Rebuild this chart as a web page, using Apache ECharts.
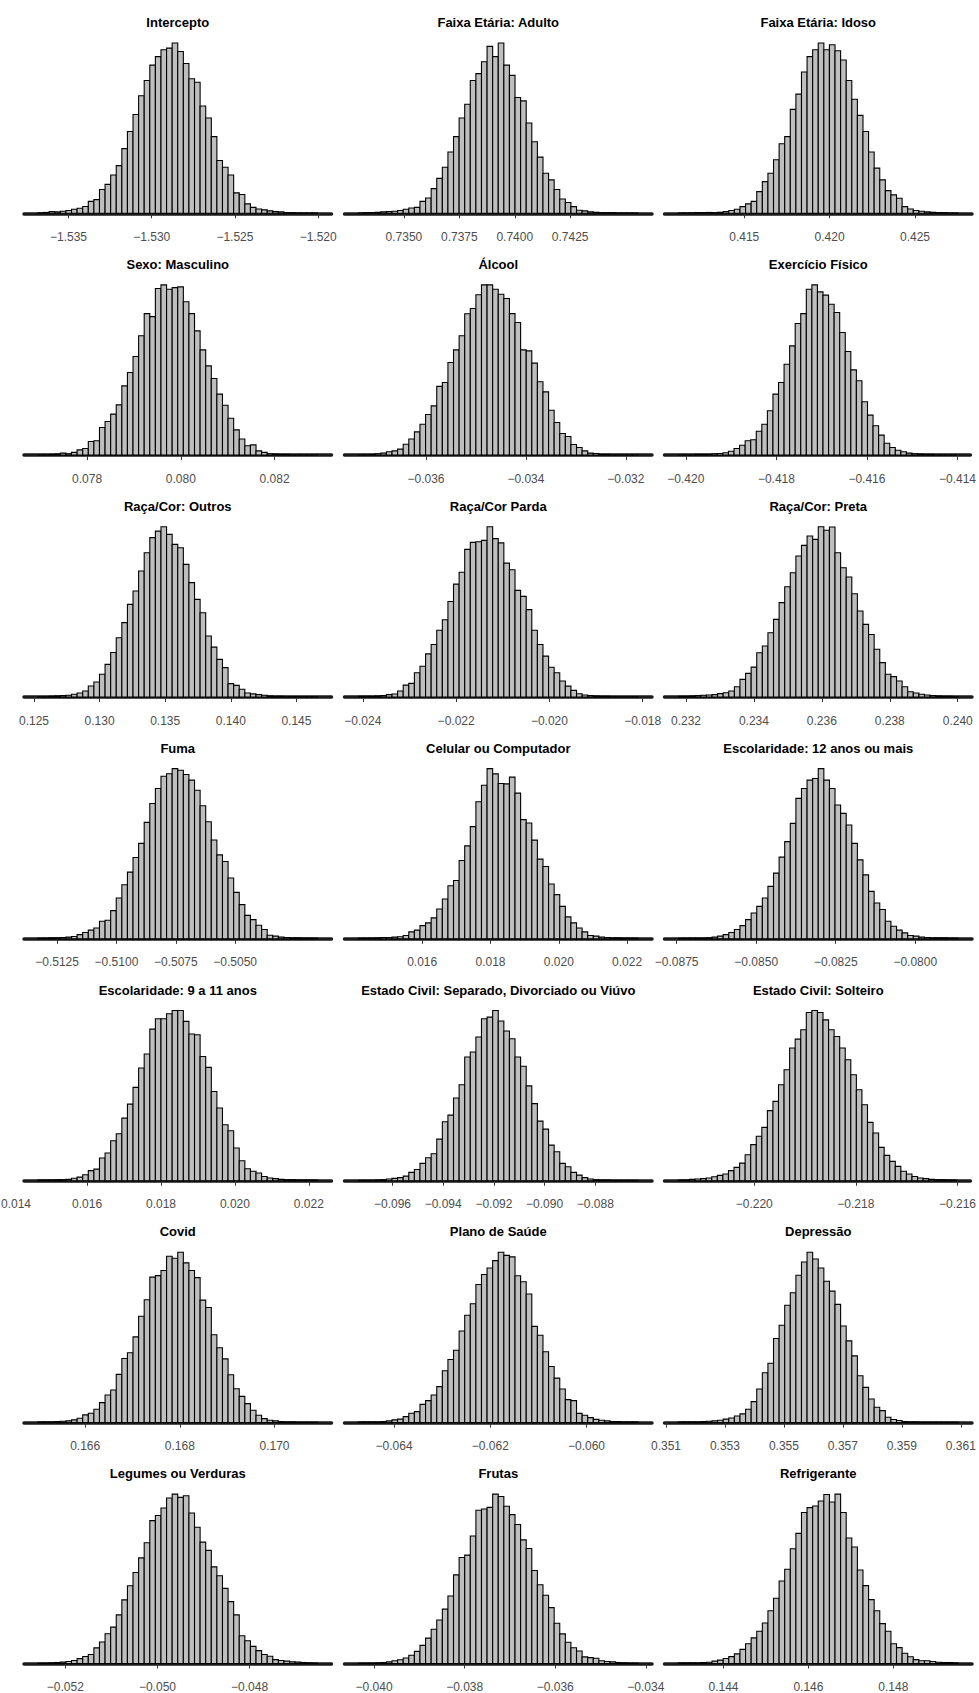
<!DOCTYPE html>
<html>
<head>
<meta charset="utf-8">
<script src="https://cdn.jsdelivr.net/npm/echarts@6/dist/echarts.min.js"></script>
<style>
  html, body { margin: 0; padding: 0; background: #ffffff; }
  #chart { width: 979px; height: 1693px; }
</style>
</head>
<body>
<div id="chart"></div>
<script>
// Posterior draws of each coefficient, shown as 50-bin histograms.

const titles = [
  'Intercepto', 'Faixa Etária: Adulto', 'Faixa Etária: Idoso',
  'Sexo: Masculino', 'Álcool', 'Exercício Físico',
  'Raça/Cor: Outros', 'Raça/Cor Parda', 'Raça/Cor: Preta',
  'Fuma', 'Celular ou Computador', 'Escolaridade: 12 anos ou mais',
  'Escolaridade: 9 a 11 anos', 'Estado Civil: Separado, Divorciado ou Viúvo', 'Estado Civil: Solteiro',
  'Covid', 'Plano de Saúde', 'Depressão',
  'Legumes ou Verduras', 'Frutas', 'Refrigerante'
];

// Left edge of the first bin and right edge of the last bin
const binRange = [
  [-1.536832, -1.520040], [0.732950, 0.745560], [0.411150, 0.427520],
  [0.076952, 0.082917], [-0.037351, -0.031757], [-0.420165, -0.414022],
  [0.125305, 0.146609], [-0.024094, -0.018100], [0.231779, 0.240009],
  [-0.513305, -0.501532], [0.014134, 0.022320], [-0.087443, -0.078657],
  [0.014671, 0.022236], [-0.097342, -0.086315], [-0.221493, -0.216020],
  [0.165002, 0.170909], [-0.064741, -0.058929], [0.351424, 0.360905],
  [-0.052593, -0.046526], [-0.040345, -0.034173], [0.142940, 0.149522]
];

const tickLabels = [
  ['-1.535', '-1.530', '-1.525', '-1.520'],
  ['0.7350', '0.7375', '0.7400', '0.7425'],
  ['0.415', '0.420', '0.425'],
  ['0.078', '0.080', '0.082'],
  ['-0.036', '-0.034', '-0.032'],
  ['-0.420', '-0.418', '-0.416', '-0.414'],
  ['0.125', '0.130', '0.135', '0.140', '0.145'],
  ['-0.024', '-0.022', '-0.020', '-0.018'],
  ['0.232', '0.234', '0.236', '0.238', '0.240'],
  ['-0.5125', '-0.5100', '-0.5075', '-0.5050'],
  ['0.016', '0.018', '0.020', '0.022'],
  ['-0.0875', '-0.0850', '-0.0825', '-0.0800'],
  ['0.014', '0.016', '0.018', '0.020', '0.022'],
  ['-0.096', '-0.094', '-0.092', '-0.090', '-0.088'],
  ['-0.220', '-0.218', '-0.216'],
  ['0.166', '0.168', '0.170'],
  ['-0.064', '-0.062', '-0.060'],
  ['0.351', '0.353', '0.355', '0.357', '0.359', '0.361'],
  ['-0.052', '-0.050', '-0.048'],
  ['-0.040', '-0.038', '-0.036', '-0.034'],
  ['0.144', '0.146', '0.148']
];

// Bin heights (relative counts), left to right
const hIntercepto = [0.3,0.5,1,0.8,1.2, 1.6,2.4,3,4,7, 8,14,17,22.5,28, 38,48,58,69,78, 87,92,96,97,100, 95,88,79,77,63, 56,45,31,27,22.5, 12,11,5.5,3.5,2.5, 2,1.4,1,0.8,0.4, 0.4,0.2,0.2,0.2,0.2];
const hAdulto = [0.2,0.4,0.4,0.6,0.8, 1,1.2,1.6,2.4,3.1, 3.5,7,9,14.5,20.5, 27,36,45,56,64, 78,82,89,98,92, 100,87,81,68,66, 53,42,33,23.5,19.6, 14,8.4,6.3,3.9,1.8, 1.4,0.8,0.6,0.4,0.4, 0.4,0.2,0.2,0.2,0.2];
const hIdoso = [0.2,0.2,0.3,0.4,0.4, 0.5,0.4,0.6,1,1.6, 2.4,3.9,5.5,7,12.7, 18.6,23.5,31.4,40.8,45, 61,70,83,92,96, 100,96,99,95.5,90, 78,67,57.5,48,36, 26.5,19.6,13.3,10.8,8.8, 3.9,2.5,1.6,1.2,0.8, 0.6,0.4,0.4,0.2,0.2];
const hMasculino = [0.2,0.2,0.4,0.6,1.2, 0.8,1.6,3.1,3.9,8, 8.4,16.2,19.7,24,29.4, 40.5,48.3,57.7,69.8,82.8, 81,97.5,99.6,97,98, 98.4,89.7,82.8,72.7,61.6, 52.2,44.8,35.7,29.2,21.6, 14.8,9.4,5.5,6,2.5, 1.6,0.8,0.6,0.4,0.4, 0.2,0.2,0.2,0.2,0.2];
const hAlcool = [0.2,0.2,0.4,0.8,1.2, 2,2.5,3.5,6.4,9.4, 13.6,18.1,23.8,28.8,40.2, 42.5,54.2,61.6,69.8,82.7, 85.8,93.8,99.6,99.6,97, 94.1,91.6,82.8,77.6,61.6, 61,53.8,42.9,37,26.3, 19.1,12.7,10.9,6.2,4.5, 2.5,1.2,1,0.4,0.4, 0.2,0.2,0.2,0.2,0.2];
const hExercicio = [0.2,0.2,0.2,0.4,0.4, 0.4,0.8,1,1.4,2.3, 3.9,5.8,8.4,9,14, 18.1,26,35.7,42.5,53.2, 63.9,77,82.8,97,99.6, 95.5,93.6,88.3,83.4,71.7, 60.6,49.9,43.5,31.2,23.4, 17.2,11.7,7,4.5,2.9, 2,1.2,0.8,0.6,0.4, 0.4,0.2,0.2,0.2,0.2];
const hOutros = [0.2,0.2,0.4,0.6,0.8, 1,1.6,2.3,3.5,6.4, 8.8,13.3,19.1,26,34.7, 43.5,54.2,62,73.7,84.4, 93.2,97,99.6,95.1,89.3, 87.3,77.6,66.9,57.1,49.3, 35.7,29.2,22,17.2,7.8, 6.8,4.5,2.3,1.8,1.4, 1,0.6,0.4,0.4,0.2, 0.2,0.2,0.2,0.2,0.2];
const hParda = [0.4,0.4,0.4,0.6,0.8, 1.4,1.8,3.5,7,8, 14.2,18.1,25.3,30.8,39.2, 45.4,56.1,66.3,73.3,86.7, 90.8,91.2,92,100,93, 90.5,78.6,74.7,62.6,59.1, 51.3,39.2,30.8,24,17.5, 14.2,9.4,6.4,3.9,1.9, 1.2,0.8,0.6,0.4,0.4, 0.2,0.2,0.2,0.2,0.2];
const hPreta = [0.4,0.4,0.6,0.8,1, 1.2,1.4,2,2.5,3.5, 6,10.3,13.8,17.5,25.9, 29.8,37.6,45.4,55.2,64.5, 72.7,82.5,88.7,94.2,92.2, 99.6,97.5,99.4,84.4,75.6, 70.2,60.4,50.3,42.5,36.6, 27.9,20.1,13.3,11.9,9.4, 6,3.1,2.3,1.6,1.2, 0.8,0.6,0.4,0.4,0.2];
const hFuma = [0.4,0.4,0.6,0.6,0.8, 1,1.4,2.5,3.7,5.1, 6.4,10.3,10.9,16.6,24, 31.8,39.2,47.8,56.1,68.4, 79.5,88.3,95.5,97,100, 99,96.5,93.2,87.3,78.2, 68.8,58.1,49.3,45.4,35.7, 27.3,20.1,13.8,11.3,8, 5.5,2.1,1.6,1,0.8, 0.6,0.6,0.4,0.4,0.4];
const hCelular = [0.4,0.4,0.4,0.6,0.8, 0.8,1,1.2,2,4.1, 5.1,7.8,9.4,12.3,17.5, 23.4,31.2,34.3,46,54.6, 65.9,80.5,90.2,100,96.9, 91.2,91,95,85.6,70, 68,58,46.8,42.5,32.2, 26,19.1,12.9,9.4,6.4, 4.1,2,1.6,1,0.8, 0.6,0.6,0.4,0.4,0.4];
const hEscol12 = [0.4,0.4,0.4,0.4,0.4, 0.6,1,1.6,2.5,3.7, 5.5,7.8,11.3,15.2,19.1, 24,30.8,38.6,48,57.1, 67.8,82.5,88.3,93.2,94.2, 100,93.2,88.3,78.6,73.7, 66.9,56.1,46.4,37.6,27.9, 21.1,17.2,10.3,7.4,5.1, 3.5,2,1.6,1,0.8, 0.6,0.6,0.6,0.4,0.4];
const hEscol9 = [0.4,0.4,0.4,0.6,0.6, 0.8,1.4,2.1,3.5,5.9, 6.8,13.3,16.2,23.4,27.5, 36.6,44.8,54.6,65.9,74.1, 88.7,94.7,94.7,97.7,99.6, 99.6,93.2,85.8,85.4,72.7, 66.3,52.2,42.5,32.7,29.2, 19.1,11.7,7,5.5,4.5, 2.5,1.6,1.2,0.8,0.6, 0.6,0.4,0.4,0.4,0.4];
const hSeparado = [0.2,0.2,0.2,0.4,0.6, 1,1.4,1.8,2.7,4.9, 6.6,10.2,13.5,15.8,24.4, 34.6,38.5,48.6,56.4,72.7, 75.6,84.4,95.1,96.1,100, 93.8,87.9,83.4,72.7,67.2, 55.7,45.3,35,30.3,20.9, 17,10.2,8.2,4.9,3.3, 1.8,1,0.6,0.4,0.4, 0.2,0.2,0.2,0.2,0.2];
const hSolteiro = [0.4,0.4,0.8,1,1.2, 1.6,2.3,3.1,3.9,5.9, 7.8,10.3,15.2,21.1,26, 31.2,41,46.4,56.1,64.9, 77.6,82.8,88.3,98.4,99.6, 98.4,94.1,88.3,84.4,77.6, 70.8,62,53.2,44.4,34.1, 27.9,19.5,14.8,11.3,8.4, 5.5,3.9,2.5,1.6,1.2, 0.8,0.6,0.6,0.4,0.4];
const hCovid = [0.4,0.4,0.4,0.6,0.8, 1,1.6,2.5,4.5,5.5, 7.8,11.7,16.2,19.1,28.3, 37.6,41,50.3,62.4,72.1, 85.4,86.3,89.3,97.7,96.5, 100,93.8,89.3,85.1,71.9, 67.6,51.6,43.9,37.4,28.1, 19.9,15.4,11.1,7.2,4.3, 2.3,1.4,1,0.6,0.4, 0.4,0.2,0.2,0.2,0.2];
const hPlano = [0.4,0.4,0.4,0.4,0.6, 1,1.6,2,3.5,5.5, 6.4,10.7,12.9,16.2,21.1, 30.4,37,42.5,53.8,63, 69.8,81.1,87,90.8,95.1, 100,98.2,97.3,86.2,82.7, 75.5,56.5,51.3,41.6,32.9, 26.1,19.7,13.5,12.9,5.4, 4.3,2.9,1.9,1.4,1, 0.6,0.6,0.4,0.4,0.4];
const hDepressao = [0.4,0.4,0.4,0.4,0.6, 0.8,1,1.4,2,2.7, 3.9,5.1,7.8,12.3,19.7, 29.3,34.8,49.4,57.2,68.9, 76.2,86.5,94.3,100,96.1, 90.8,83,77.2,69.4,56.7, 48,39.2,27.5,20.7,13.8, 9,7,3.1,1.8,1.2, 0.6,0.4,0.4,0.2,0.2, 0.2,0.2,0.2,0.2,0.2];
const hLegumes = [0.2,0.2,0.4,0.6,0.8, 1.2,1.8,2.9,4.1,5.3, 9.2,12.7,17.5,21.4,28.6, 37.4,45.7,53.5,62.1,71, 84,87,91.4,97.3,99.6, 97.7,98.6,88.5,80.1,71.4, 66.5,56.8,51.6,44.2,36.4, 28.6,16.3,13.4,10.1,7.6, 5.3,4.3,2.3,1.8,1.4, 1,0.8,0.6,0.4,0.2];
const hFrutas = [0.2,0.2,0.2,0.4,0.6, 1,1.6,2.2,3.3,4.9, 7.2,10.7,15,20.2,25.7, 32.1,39.9,52.3,62.6,64, 75.3,90.5,91.2,92.2,100, 98.6,92.8,87.9,82.1,73, 67.9,54.9,46.5,40.3,33, 23.8,17.5,12.6,9.3,7.4, 3.9,3.5,3.1,1.6,1.2, 1,0.6,0.4,0.2,0.2];
const hRefrigerante = [0.4,0.4,0.4,0.4,0.6, 0.8,1.4,2,3,4.1, 5.7,8.4,11.7,15.2,19.1, 24,31.2,38.6,48.8,55.8, 67.9,77,89.3,92.2,93.2, 96.1,100,95.5,100.2,89.3, 74.2,68.9,55.3,46.1,37.8, 31.2,23.6,19.1,11.7,9.4, 6.1,4,2.3,1.6,1.6, 1.2,0.8,0.6,0.6,0.4];

const heights = [
  hIntercepto, hAdulto, hIdoso,
  hMasculino, hAlcool, hExercicio,
  hOutros, hParda, hPreta,
  hFuma, hCelular, hEscol12,
  hEscol9, hSeparado, hSolteiro,
  hCovid, hPlano, hDepressao,
  hLegumes, hFrutas, hRefrigerante
];

// Page layout: 7 rows x 3 columns of panels
const FONT = "'Liberation Sans', Arial, Helvetica, sans-serif";
const COL_LEFT = [24, 344.5, 664.5];
const PANEL_W = 307.5;
const ROW_H = 1693 / 7;
const GRID_TOP = 34.5;
const GRID_H = 187.3;
const TITLE_Y = 22.6;
const EXPAND = 0.05;
const TICK_FONT = 12;
const LABEL_GAP = 9;
const PAGE_W = 979;

const toLabel = s => s.replace('-', '\u2212');

const grids = [], xAxes = [], yAxes = [], series = [], titleOpts = [];
const outside = []; // tick labels that fall beyond an axis' drawn range

titles.forEach((name, i) => {
  const row = Math.floor(i / 3), col = i % 3;
  const [lo, hi] = binRange[i];
  const span = hi - lo;
  const xMin = lo - EXPAND * span, xMax = hi + EXPAND * span;
  const h = heights[i];
  const hMax = Math.max.apply(null, h);
  const binW = span / h.length;

  const tickVals = tickLabels[i].map(Number);
  const labelOf = {};
  tickLabels[i].forEach(s => { labelOf[Number(s).toFixed(6)] = toLabel(s); });
  const inside = tickVals.filter(v => v >= xMin && v <= xMax);
  tickVals.filter(v => v < xMin || v > xMax).forEach(v => outside.push({ axis: i, value: v, text: labelOf[v.toFixed(6)] }));

  grids.push({
    left: COL_LEFT[col], top: row * ROW_H + GRID_TOP,
    width: PANEL_W, height: GRID_H, containLabel: false
  });
  titleOpts.push({
    text: name,
    left: COL_LEFT[col] + PANEL_W / 2,
    top: row * ROW_H + TITLE_Y,
    textAlign: 'center', textVerticalAlign: 'middle', padding: 0,
    textStyle: { fontFamily: FONT, fontSize: 13, fontWeight: 'bold', color: '#000000' }
  });
  xAxes.push({
    type: 'value', gridIndex: i, min: xMin, max: xMax,
    axisLine: { show: true, lineStyle: { color: '#1a1a1a', width: 3.5 } },
    axisTick: { show: true, length: 5, customValues: inside, lineStyle: { color: '#333333', width: 1 } },
    axisLabel: {
      show: true, customValues: inside, margin: LABEL_GAP,
      fontFamily: FONT, fontSize: TICK_FONT, color: '#4d4d4d',
      formatter: v => labelOf[Number(v).toFixed(6)] || ''
    },
    splitLine: { show: false }
  });
  yAxes.push({
    type: 'value', gridIndex: i, show: false,
    min: -EXPAND * hMax, max: (1 + EXPAND) * hMax,
    splitLine: { show: false }
  });
  series.push({
    type: 'custom', coordinateSystem: 'cartesian2d',
    xAxisIndex: i, yAxisIndex: i,
    encode: { x: [0, 1], y: 2 },
    data: h.map((v, k) => [lo + k * binW, lo + (k + 1) * binW, v]),
    renderItem: (params, api) => {
      const p0 = api.coord([api.value(0), 0]);
      const p1 = api.coord([api.value(1), api.value(2)]);
      return {
        type: 'rect',
        shape: { x: p0[0], y: p1[1], width: p1[0] - p0[0], height: p0[1] - p1[1] },
        style: { fill: '#bebebe', stroke: '#000000', lineWidth: 1.1 }
      };
    }
  });
});

const chart = echarts.init(document.getElementById('chart'), null, { renderer: 'svg' });
chart.setOption({
  animation: false,
  backgroundColor: '#ffffff',
  title: titleOpts,
  grid: grids,
  xAxis: xAxes,
  yAxis: yAxes,
  series: series
});

// Tick labels that sit beyond the axis range are placed through the same axis scale,
// kept inside the page so they stay readable
const measure = document.createElement('canvas').getContext('2d');
measure.font = TICK_FONT + 'px ' + FONT;
const extra = outside.map(t => {
  const yMin = chart.getModel().getComponent('yAxis', t.axis).get('min');
  const p = chart.convertToPixel({ xAxisIndex: t.axis, yAxisIndex: t.axis }, [t.value, yMin]);
  const half = measure.measureText(t.text).width / 2 + 1;
  const x = Math.min(Math.max(p[0], half), PAGE_W - half);
  return {
    type: 'text', x: x, y: p[1] + LABEL_GAP, silent: true,
    style: { text: t.text, fontFamily: FONT, fontSize: TICK_FONT, fill: '#4d4d4d', align: 'center', verticalAlign: 'top' }
  };
});
if (extra.length) chart.setOption({ graphic: extra });
</script>
</body>
</html>
